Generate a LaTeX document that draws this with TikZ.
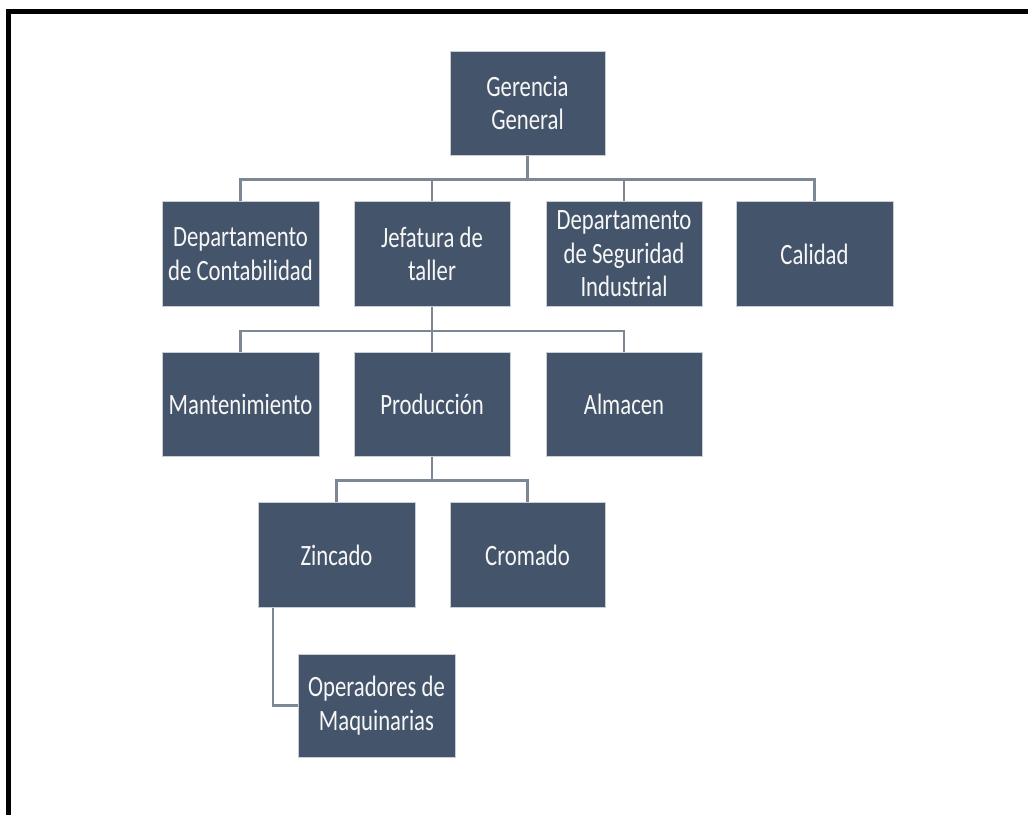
\documentclass[tikz,border=0pt]{standalone}
\usepackage{fontspec}
\usetikzlibrary{calc}
\setmainfont{Carlito}[FakeStretch=0.77]
\definecolor{boxfill}{HTML}{44546A}
\definecolor{boxedge}{HTML}{C9CED6}
\definecolor{linkcol}{HTML}{7D8897}
\begin{document}
\begin{tikzpicture}[x=1pt,y=-1pt,
  unit/.style={draw=boxedge, line width=1pt, fill=boxfill, text=white!94!gray,
    inner sep=0pt, align=center,
    font=\fontsize{29.5}{33.5}\selectfont},
  conn/.style={draw=linkcol, line width=2.2pt}]
  \useasboundingbox (0,0) rectangle (1028,814);
  \fill[white] (0,0) rectangle (1028,814);
  % frame: only the top and left edges fall inside the page
  \draw[black, line width=5pt] (8.5,830) -- (8.5,11.5) -- (1040,11.5);

  % units
  \node[unit, minimum width=155, minimum height=104] (gg) at (527.5,103) {Gerencia\\General};
  \node[unit, minimum width=157, minimum height=105] (dc) at (240.5,254) {Departamento\\de Contabilidad};
  \node[unit, minimum width=156, minimum height=105] (jt) at (432,254) {Jefatura de\\taller};
  \node[unit, minimum width=156, minimum height=105] (ds) at (624,254) {Departamento\\de Seguridad\\Industrial};
  \node[unit, minimum width=157, minimum height=105] (ca) at (814.5,254) {Calidad};
  \node[unit, minimum width=157, minimum height=104] (ma) at (240.5,404) {Mantenimiento};
  \node[unit, minimum width=156, minimum height=104] (pr) at (432,404) {Producción};
  \node[unit, minimum width=156, minimum height=104] (al) at (624,404) {Almacen};
  \node[unit, minimum width=157, minimum height=105] (zi) at (336.5,555) {Zincado};
  \node[unit, minimum width=155, minimum height=105] (cr) at (527.5,555) {Cromado};
  \node[unit, minimum width=157, minimum height=103] (op) at (376.5,705.5) {Operadores de\\Maquinarias};

  % connectors
  \coordinate (b1) at ($(gg.south)+(0,24)$);
  \draw[conn] (gg.south) -- (b1);
  \draw[conn] (b1) -| (dc.north);
  \draw[conn] (b1) -| (jt.north);
  \draw[conn] (b1) -| (ds.north);
  \draw[conn] (b1) -| (ca.north);

  \coordinate (b2) at ($(jt.south)+(0,24)$);
  \draw[conn] (jt.south) -- (b2);
  \draw[conn] (b2) -| (ma.north);
  \draw[conn] (b2) -| (pr.north);
  \draw[conn] (b2) -| (al.north);

  \coordinate (b3) at ($(pr.south)+(0,24)$);
  \draw[conn] (pr.south) -- (b3);
  \draw[conn] (b3) -| (zi.north);
  \draw[conn] (b3) -| (cr.north);

  \coordinate (b4) at ($(zi.south west)+(15.5,0)$);
  \draw[conn] (b4) |- (op.west);
\end{tikzpicture}
\end{document}
